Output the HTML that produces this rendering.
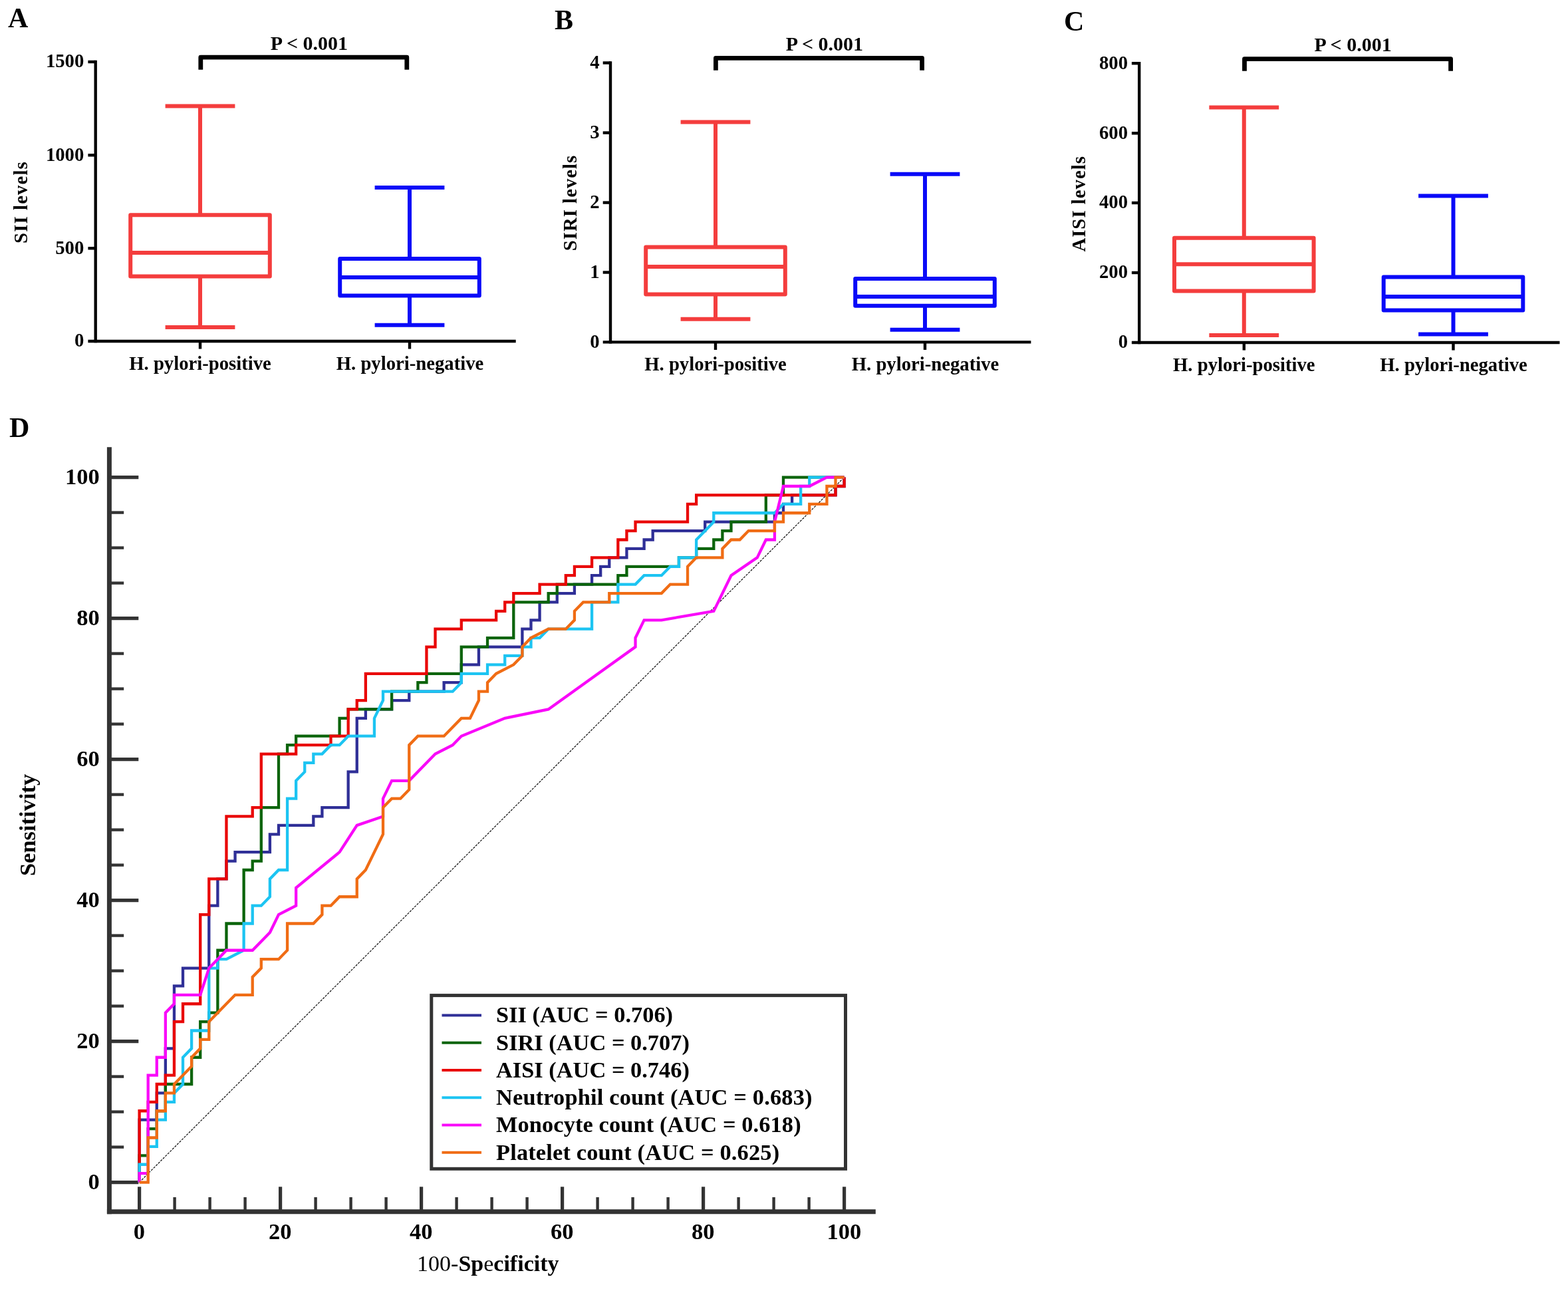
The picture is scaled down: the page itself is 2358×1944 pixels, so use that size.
<!DOCTYPE html>
<html lang="en"><head><meta charset="utf-8"><title>Figure</title>
<style>html,body{margin:0;padding:0;background:#fff}svg{display:block}</style></head>
<body>
<svg width="2358" height="1944" viewBox="0 0 2358 1944" font-family='"Liberation Serif", serif' fill="#000">
<rect width="2358" height="1944" fill="#fff"/>
<g stroke="#000" stroke-width="4.4" fill="none">
<line x1="143.7" y1="90.8" x2="143.7" y2="515.2"/>
<line x1="132.39999999999998" y1="513" x2="775.7" y2="513"/>
<line x1="132.39999999999998" y1="373.3" x2="143.7" y2="373.3"/>
<line x1="132.39999999999998" y1="233.3" x2="143.7" y2="233.3"/>
<line x1="132.39999999999998" y1="93" x2="143.7" y2="93"/>
<line x1="301" y1="513" x2="301" y2="524.6"/>
<line x1="616" y1="513" x2="616" y2="524.6"/>
</g>
<text x="126.3" y="521.4" font-size="28.7" font-weight="bold" text-anchor="end">0</text>
<text x="126.3" y="381.7" font-size="28.7" font-weight="bold" text-anchor="end">500</text>
<text x="126.3" y="241.7" font-size="28.7" font-weight="bold" text-anchor="end">1000</text>
<text x="126.3" y="101.4" font-size="28.7" font-weight="bold" text-anchor="end">1500</text>
<text x="41" y="304.6" font-size="28.7" font-weight="bold" text-anchor="middle" transform="rotate(-90 41 304.6)" textLength="122.6" lengthAdjust="spacing">SII levels</text>
<text x="301" y="555.6" font-size="28.7" font-weight="bold" text-anchor="middle">H. pylori-positive</text>
<text x="616.5" y="555.6" font-size="28.7" font-weight="bold" text-anchor="middle">H. pylori-negative</text>
<text x="12" y="40.8" font-size="42" font-weight="bold" text-anchor="start">A</text>
<path d="M301.8 104.8V86.2H611.8V104.8" fill="none" stroke="#000" stroke-width="6.8" stroke-linejoin="round"/>
<text x="465" y="75" font-size="30" font-weight="bold" text-anchor="middle">P &lt; 0.001</text>
<g stroke="#f43d3d" stroke-width="6" fill="none" stroke-linejoin="round">
<line x1="301" y1="159.4" x2="301" y2="323.3"/>
<line x1="301" y1="415.6" x2="301" y2="492"/>
<line x1="248.6" y1="159.4" x2="353.4" y2="159.4"/>
<line x1="248.6" y1="492" x2="353.4" y2="492"/>
<rect x="196.2" y="323.3" width="209.6" height="92.3"/>
<line x1="196.2" y1="379.9" x2="405.8" y2="379.9"/>
</g>
<g stroke="#0a0af8" stroke-width="6" fill="none" stroke-linejoin="round">
<line x1="616" y1="281.9" x2="616" y2="389"/>
<line x1="616" y1="444.6" x2="616" y2="488.7"/>
<line x1="563.6" y1="281.9" x2="668.4" y2="281.9"/>
<line x1="563.6" y1="488.7" x2="668.4" y2="488.7"/>
<rect x="511.2" y="389" width="209.6" height="55.6"/>
<line x1="511.2" y1="417.1" x2="720.8" y2="417.1"/>
</g>
<g stroke="#000" stroke-width="4.4" fill="none">
<line x1="918" y1="92.3" x2="918" y2="516.6"/>
<line x1="906.7" y1="514.4" x2="1550.4" y2="514.4"/>
<line x1="906.7" y1="409.5" x2="918" y2="409.5"/>
<line x1="906.7" y1="304.6" x2="918" y2="304.6"/>
<line x1="906.7" y1="199.6" x2="918" y2="199.6"/>
<line x1="906.7" y1="94.5" x2="918" y2="94.5"/>
<line x1="1076" y1="514.4" x2="1076" y2="526.0"/>
<line x1="1391" y1="514.4" x2="1391" y2="526.0"/>
</g>
<text x="901.5" y="522.8" font-size="28.7" font-weight="bold" text-anchor="end">0</text>
<text x="901.5" y="417.9" font-size="28.7" font-weight="bold" text-anchor="end">1</text>
<text x="901.5" y="313.0" font-size="28.7" font-weight="bold" text-anchor="end">2</text>
<text x="901.5" y="208.0" font-size="28.7" font-weight="bold" text-anchor="end">3</text>
<text x="901.5" y="102.9" font-size="28.7" font-weight="bold" text-anchor="end">4</text>
<text x="866.5" y="305.5" font-size="28.7" font-weight="bold" text-anchor="middle" transform="rotate(-90 866.5 305.5)" textLength="143.6" lengthAdjust="spacing">SIRI levels</text>
<text x="1076" y="556.6" font-size="28.7" font-weight="bold" text-anchor="middle">H. pylori-positive</text>
<text x="1391.5" y="556.6" font-size="28.7" font-weight="bold" text-anchor="middle">H. pylori-negative</text>
<text x="834" y="44.4" font-size="42" font-weight="bold" text-anchor="start">B</text>
<path d="M1076.4 105.8V87.4H1386.6V105.8" fill="none" stroke="#000" stroke-width="6.8" stroke-linejoin="round"/>
<text x="1240" y="75.6" font-size="30" font-weight="bold" text-anchor="middle">P &lt; 0.001</text>
<g stroke="#f43d3d" stroke-width="6" fill="none" stroke-linejoin="round">
<line x1="1076" y1="183.5" x2="1076" y2="371.5"/>
<line x1="1076" y1="442.6" x2="1076" y2="479.8"/>
<line x1="1023.6" y1="183.5" x2="1128.4" y2="183.5"/>
<line x1="1023.6" y1="479.8" x2="1128.4" y2="479.8"/>
<rect x="971.2" y="371.5" width="209.6" height="71.1"/>
<line x1="971.2" y1="401" x2="1180.8" y2="401"/>
</g>
<g stroke="#0a0af8" stroke-width="6" fill="none" stroke-linejoin="round">
<line x1="1391" y1="261.7" x2="1391" y2="418.9"/>
<line x1="1391" y1="459.8" x2="1391" y2="495.8"/>
<line x1="1338.6" y1="261.7" x2="1443.4" y2="261.7"/>
<line x1="1338.6" y1="495.8" x2="1443.4" y2="495.8"/>
<rect x="1286.2" y="418.9" width="209.6" height="40.9"/>
<line x1="1286.2" y1="446.1" x2="1495.8" y2="446.1"/>
</g>
<g stroke="#000" stroke-width="4.4" fill="none">
<line x1="1713.2" y1="93.0" x2="1713.2" y2="517.2"/>
<line x1="1701.9" y1="515" x2="2345.5" y2="515"/>
<line x1="1701.9" y1="410" x2="1713.2" y2="410"/>
<line x1="1701.9" y1="305" x2="1713.2" y2="305"/>
<line x1="1701.9" y1="200.3" x2="1713.2" y2="200.3"/>
<line x1="1701.9" y1="95.2" x2="1713.2" y2="95.2"/>
<line x1="1870.8" y1="515" x2="1870.8" y2="526.6"/>
<line x1="2185.5" y1="515" x2="2185.5" y2="526.6"/>
</g>
<text x="1696" y="523.4" font-size="28.7" font-weight="bold" text-anchor="end">0</text>
<text x="1696" y="418.4" font-size="28.7" font-weight="bold" text-anchor="end">200</text>
<text x="1696" y="313.4" font-size="28.7" font-weight="bold" text-anchor="end">400</text>
<text x="1696" y="208.7" font-size="28.7" font-weight="bold" text-anchor="end">600</text>
<text x="1696" y="103.6" font-size="28.7" font-weight="bold" text-anchor="end">800</text>
<text x="1632" y="306.8" font-size="28.7" font-weight="bold" text-anchor="middle" transform="rotate(-90 1632 306.8)" textLength="143.6" lengthAdjust="spacing">AISI levels</text>
<text x="1870.8" y="557.6" font-size="28.7" font-weight="bold" text-anchor="middle">H. pylori-positive</text>
<text x="2186.0" y="557.6" font-size="28.7" font-weight="bold" text-anchor="middle">H. pylori-negative</text>
<text x="1600" y="45.6" font-size="42" font-weight="bold" text-anchor="start">C</text>
<path d="M1871.5 106.7V88.7H2181.6V106.7" fill="none" stroke="#000" stroke-width="6.8" stroke-linejoin="round"/>
<text x="2034.6" y="76.6" font-size="30" font-weight="bold" text-anchor="middle">P &lt; 0.001</text>
<g stroke="#f43d3d" stroke-width="6" fill="none" stroke-linejoin="round">
<line x1="1870.8" y1="161.6" x2="1870.8" y2="357.7"/>
<line x1="1870.8" y1="437.5" x2="1870.8" y2="503.9"/>
<line x1="1818.3999999999999" y1="161.6" x2="1923.2" y2="161.6"/>
<line x1="1818.3999999999999" y1="503.9" x2="1923.2" y2="503.9"/>
<rect x="1766.0" y="357.7" width="209.6" height="79.8"/>
<line x1="1766.0" y1="397.2" x2="1975.6" y2="397.2"/>
</g>
<g stroke="#0a0af8" stroke-width="6" fill="none" stroke-linejoin="round">
<line x1="2185.5" y1="294.6" x2="2185.5" y2="416.6"/>
<line x1="2185.5" y1="466.5" x2="2185.5" y2="502.4"/>
<line x1="2133.1" y1="294.6" x2="2237.9" y2="294.6"/>
<line x1="2133.1" y1="502.4" x2="2237.9" y2="502.4"/>
<rect x="2080.7" y="416.6" width="209.6" height="49.9"/>
<line x1="2080.7" y1="446" x2="2290.3" y2="446"/>
</g>
<text x="14" y="656.8" font-size="42" font-weight="bold" text-anchor="start">D</text>
<g stroke="#333" fill="none">
<path d="M164.4 672.2V1825.3" stroke-width="7"/>
<path d="M160.9 1821.8H1316.8" stroke-width="7"/>
<path d="M164.4 1777.6H208.3" stroke-width="5.4"/>
<path d="M164.4 1724.6H186.2" stroke-width="4.4"/>
<path d="M164.4 1671.6H186.2" stroke-width="4.4"/>
<path d="M164.4 1618.6H186.2" stroke-width="4.4"/>
<path d="M164.4 1565.6H208.3" stroke-width="5.4"/>
<path d="M164.4 1512.6H186.2" stroke-width="4.4"/>
<path d="M164.4 1459.6H186.2" stroke-width="4.4"/>
<path d="M164.4 1406.6H186.2" stroke-width="4.4"/>
<path d="M164.4 1353.6H208.3" stroke-width="5.4"/>
<path d="M164.4 1300.6H186.2" stroke-width="4.4"/>
<path d="M164.4 1247.6H186.2" stroke-width="4.4"/>
<path d="M164.4 1194.6H186.2" stroke-width="4.4"/>
<path d="M164.4 1141.6H208.3" stroke-width="5.4"/>
<path d="M164.4 1088.6H186.2" stroke-width="4.4"/>
<path d="M164.4 1035.6H186.2" stroke-width="4.4"/>
<path d="M164.4 982.6H186.2" stroke-width="4.4"/>
<path d="M164.4 929.6H208.3" stroke-width="5.4"/>
<path d="M164.4 876.6H186.2" stroke-width="4.4"/>
<path d="M164.4 823.6H186.2" stroke-width="4.4"/>
<path d="M164.4 770.6H186.2" stroke-width="4.4"/>
<path d="M164.4 717.6H208.3" stroke-width="5.4"/>
<path d="M209.6 1821.8V1784.3" stroke-width="5.2"/>
<path d="M262.6 1821.8V1800" stroke-width="4.4"/>
<path d="M315.6 1821.8V1800" stroke-width="4.4"/>
<path d="M368.6 1821.8V1800" stroke-width="4.4"/>
<path d="M421.6 1821.8V1784.3" stroke-width="5.2"/>
<path d="M474.6 1821.8V1800" stroke-width="4.4"/>
<path d="M527.6 1821.8V1800" stroke-width="4.4"/>
<path d="M580.6 1821.8V1800" stroke-width="4.4"/>
<path d="M633.6 1821.8V1784.3" stroke-width="5.2"/>
<path d="M686.6 1821.8V1800" stroke-width="4.4"/>
<path d="M739.6 1821.8V1800" stroke-width="4.4"/>
<path d="M792.6 1821.8V1800" stroke-width="4.4"/>
<path d="M845.6 1821.8V1784.3" stroke-width="5.2"/>
<path d="M898.6 1821.8V1800" stroke-width="4.4"/>
<path d="M951.6 1821.8V1800" stroke-width="4.4"/>
<path d="M1004.6 1821.8V1800" stroke-width="4.4"/>
<path d="M1057.6 1821.8V1784.3" stroke-width="5.2"/>
<path d="M1110.6 1821.8V1800" stroke-width="4.4"/>
<path d="M1163.6 1821.8V1800" stroke-width="4.4"/>
<path d="M1216.6 1821.8V1800" stroke-width="4.4"/>
<path d="M1269.6 1821.8V1784.3" stroke-width="5.2"/>
</g>
<text x="149.8" y="1787.7" font-size="34.5" font-weight="bold" text-anchor="end">0</text>
<text x="209.3" y="1863.2" font-size="34.5" font-weight="bold" text-anchor="middle">0</text>
<text x="149.8" y="1575.7" font-size="34.5" font-weight="bold" text-anchor="end">20</text>
<text x="421.3" y="1863.2" font-size="34.5" font-weight="bold" text-anchor="middle">20</text>
<text x="149.8" y="1363.7" font-size="34.5" font-weight="bold" text-anchor="end">40</text>
<text x="633.3" y="1863.2" font-size="34.5" font-weight="bold" text-anchor="middle">40</text>
<text x="149.8" y="1151.7" font-size="34.5" font-weight="bold" text-anchor="end">60</text>
<text x="845.3" y="1863.2" font-size="34.5" font-weight="bold" text-anchor="middle">60</text>
<text x="149.8" y="939.7" font-size="34.5" font-weight="bold" text-anchor="end">80</text>
<text x="1057.3" y="1863.2" font-size="34.5" font-weight="bold" text-anchor="middle">80</text>
<text x="149.8" y="727.7" font-size="34.5" font-weight="bold" text-anchor="end">100</text>
<text x="1269.3" y="1863.2" font-size="34.5" font-weight="bold" text-anchor="middle">100</text>
<text x="53.5" y="1240.4" font-size="34.5" font-weight="bold" text-anchor="middle" transform="rotate(-90 53.5 1240.4)">Sensitivity</text>
<text x="733.8" y="1911" font-size="34" text-anchor="middle" font-weight="bold"><tspan font-weight="normal">100-</tspan>Sp<tspan font-weight="normal">e</tspan>cificity</text>
<line x1="209.6" y1="1777.6" x2="1269.6" y2="717.6" stroke="#000" stroke-width="1.15" stroke-dasharray="3.3 1.7"/>
<g fill="none" stroke-width="4.3" stroke-linejoin="miter">
<path d="M209.6 1777.6L209.6 1683.68L235.77 1683.68L235.77 1643.42L248.86 1643.42L248.86 1576.33L261.95 1576.33L261.95 1482.41L275.03 1482.41L275.03 1455.57L314.29 1455.57L314.29 1361.65L327.38 1361.65L327.38 1321.4L340.46 1321.4L340.46 1294.56L353.55 1294.56L353.55 1281.14L405.9 1281.14L405.9 1254.31L418.98 1254.31L418.98 1240.89L471.33 1240.89L471.33 1227.47L484.41 1227.47L484.41 1214.06L523.67 1214.06L523.67 1160.38L536.76 1160.38L536.76 1079.88L549.85 1079.88L549.85 1066.46L589.11 1066.46L589.11 1053.04L615.28 1053.04L615.28 1039.63L667.62 1039.63L667.62 1026.21L693.8 1026.21L693.8 999.37L719.97 999.37L719.97 972.54L785.4 972.54L785.4 945.7L798.49 945.7L798.49 932.28L811.58 932.28L811.58 905.45L837.75 905.45L837.75 892.03L863.92 892.03L863.92 878.61L890.09 878.61L890.09 865.19L903.18 865.19L903.18 851.78L916.27 851.78L916.27 838.36L942.44 838.36L942.44 824.94L968.61 824.94L968.61 811.52L981.7 811.52L981.7 798.11L1060.22 798.11L1060.22 784.69L1164.91 784.69L1164.91 771.27L1178.0 771.27L1178.0 757.85L1191.08 757.85L1191.08 744.44L1256.51 744.44L1256.51 731.02L1269.6 731.02L1269.6 717.6" stroke="#2f2f97"/>
<path d="M209.6 1777.6L209.6 1737.35L222.69 1737.35L222.69 1697.09L235.77 1697.09L235.77 1670.26L248.86 1670.26L248.86 1630.01L288.12 1630.01L288.12 1589.75L301.2 1589.75L301.2 1536.08L314.29 1536.08L314.29 1522.66L327.38 1522.66L327.38 1428.74L340.46 1428.74L340.46 1388.49L366.64 1388.49L366.64 1307.98L379.72 1307.98L379.72 1294.56L392.81 1294.56L392.81 1214.06L418.98 1214.06L418.98 1133.55L432.07 1133.55L432.07 1120.13L445.16 1120.13L445.16 1106.71L510.59 1106.71L510.59 1079.88L523.67 1079.88L523.67 1066.46L589.11 1066.46L589.11 1039.63L628.37 1039.63L628.37 1026.21L641.45 1026.21L641.45 1012.79L693.8 1012.79L693.8 972.54L733.06 972.54L733.06 959.12L772.32 959.12L772.32 905.45L824.66 905.45L824.66 892.03L837.75 892.03L837.75 878.61L929.35 878.61L929.35 865.19L942.44 865.19L942.44 851.78L1020.96 851.78L1020.96 838.36L1047.13 838.36L1047.13 824.94L1073.3 824.94L1073.3 811.52L1086.39 811.52L1086.39 798.11L1099.48 798.11L1099.48 784.69L1151.82 784.69L1151.82 744.44L1178.0 744.44L1178.0 717.6L1269.6 717.6" stroke="#0b640b"/>
<path d="M209.6 1777.6L209.6 1670.26L222.69 1670.26L222.69 1656.84L235.77 1656.84L235.77 1630.01L248.86 1630.01L248.86 1616.59L261.95 1616.59L261.95 1536.08L275.03 1536.08L275.03 1509.25L301.2 1509.25L301.2 1375.07L314.29 1375.07L314.29 1321.4L340.46 1321.4L340.46 1227.47L379.72 1227.47L379.72 1214.06L392.81 1214.06L392.81 1133.55L445.16 1133.55L445.16 1120.13L497.5 1120.13L497.5 1106.71L523.67 1106.71L523.67 1066.46L536.76 1066.46L536.76 1053.04L549.85 1053.04L549.85 1012.79L641.45 1012.79L641.45 972.54L654.54 972.54L654.54 945.7L693.8 945.7L693.8 932.28L746.14 932.28L746.14 918.87L759.23 918.87L759.23 905.45L772.32 905.45L772.32 892.03L811.58 892.03L811.58 878.61L850.83 878.61L850.83 865.19L863.92 865.19L863.92 851.78L890.09 851.78L890.09 838.36L929.35 838.36L929.35 811.52L942.44 811.52L942.44 798.11L955.53 798.11L955.53 784.69L1034.04 784.69L1034.04 757.85L1047.13 757.85L1047.13 744.44L1256.51 744.44L1256.51 731.02L1269.6 731.02L1269.6 717.6" stroke="#e90505"/>
<path d="M209.6 1777.6L209.6 1750.76L222.69 1750.76L222.69 1723.93L235.77 1723.93L235.77 1683.68L248.86 1683.68L248.86 1656.84L261.95 1656.84L261.95 1643.42L275.03 1630.01L275.03 1589.75L288.12 1576.33L288.12 1549.5L314.29 1549.5L314.29 1455.57L327.38 1455.57L327.38 1442.16L340.46 1442.16L366.64 1428.74L366.64 1388.49L379.72 1388.49L379.72 1361.65L392.81 1361.65L405.9 1348.23L405.9 1321.4L418.98 1307.98L432.07 1307.98L432.07 1200.64L445.16 1200.64L445.16 1173.8L458.24 1160.38L458.24 1146.97L471.33 1146.97L471.33 1133.55L484.41 1133.55L497.5 1120.13L510.59 1120.13L523.67 1106.71L562.93 1106.71L562.93 1079.88L576.02 1053.04L576.02 1039.63L680.71 1039.63L693.8 1026.21L693.8 1012.79L733.06 1012.79L733.06 999.37L759.23 999.37L759.23 985.95L785.4 985.95L785.4 972.54L798.49 972.54L798.49 959.12L811.58 959.12L824.66 945.7L890.09 945.7L890.09 905.45L929.35 905.45L929.35 878.61L955.53 878.61L968.61 865.19L994.79 865.19L1007.87 851.78L1020.96 851.78L1020.96 838.36L1047.13 838.36L1047.13 811.52L1073.3 784.69L1073.3 771.27L1164.91 771.27L1178.0 757.85L1204.17 757.85L1204.17 731.02L1217.25 731.02L1217.25 717.6L1269.6 717.6" stroke="#1cc4f2"/>
<path d="M209.6 1777.6L209.6 1764.18L222.69 1764.18L222.69 1616.59L235.77 1616.59L235.77 1589.75L248.86 1589.75L248.86 1522.66L261.95 1509.25L261.95 1495.83L301.2 1495.83L314.29 1455.57L327.38 1442.16L340.46 1428.74L379.72 1428.74L405.9 1401.9L418.98 1375.07L445.16 1361.65L445.16 1334.82L510.59 1281.14L536.76 1240.89L576.02 1227.47L576.02 1200.64L589.11 1173.8L615.28 1173.8L654.54 1133.55L680.71 1120.13L693.8 1106.71L759.23 1079.88L824.66 1066.46L955.53 972.54L955.53 959.12L968.61 932.28L994.79 932.28L1073.3 918.87L1099.48 865.19L1138.74 838.36L1151.82 811.52L1164.91 811.52L1164.91 784.69L1178.0 731.02L1217.25 731.02L1243.43 717.6L1269.6 717.6" stroke="#f908f9"/>
<path d="M209.6 1777.6L222.69 1777.6L222.69 1710.51L235.77 1710.51L235.77 1670.26L248.86 1670.26L248.86 1643.42L261.95 1643.42L261.95 1630.01L288.12 1603.17L288.12 1589.75L301.2 1576.33L301.2 1562.92L314.29 1562.92L314.29 1536.08L353.55 1495.83L379.72 1495.83L379.72 1468.99L392.81 1455.57L392.81 1442.16L418.98 1442.16L432.07 1428.74L432.07 1388.49L471.33 1388.49L484.41 1375.07L484.41 1361.65L497.5 1361.65L510.59 1348.23L536.76 1348.23L536.76 1321.4L549.85 1307.98L576.02 1254.31L576.02 1214.06L589.11 1200.64L602.19 1200.64L615.28 1187.22L615.28 1120.13L628.37 1106.71L667.62 1106.71L693.8 1079.88L706.88 1079.88L719.97 1053.04L719.97 1039.63L733.06 1039.63L733.06 1026.21L746.14 1012.79L772.32 999.37L785.4 985.95L785.4 972.54L798.49 959.12L824.66 945.7L850.83 945.7L863.92 932.28L863.92 918.87L877.01 905.45L916.27 905.45L916.27 892.03L994.79 892.03L1007.87 878.61L1034.04 878.61L1034.04 851.78L1047.13 838.36L1086.39 838.36L1086.39 824.94L1099.48 811.52L1112.56 811.52L1125.65 798.11L1164.91 798.11L1164.91 784.69L1178.0 784.69L1178.0 771.27L1217.25 771.27L1217.25 757.85L1243.43 757.85L1243.43 731.02L1256.51 731.02L1256.51 717.6L1269.6 717.6" stroke="#f06c14"/>
</g>
<rect x="648.8" y="1496.6" width="622.7" height="260.7" fill="#fff" stroke="#333" stroke-width="5"/>
<line x1="664.5" y1="1526.4" x2="724" y2="1526.4" stroke="#2f2f97" stroke-width="4"/>
<text x="746" y="1537.4" font-size="34.4" font-weight="bold" text-anchor="start">SII (AUC = 0.706)</text>
<line x1="664.5" y1="1567.7" x2="724" y2="1567.7" stroke="#0b640b" stroke-width="4"/>
<text x="746" y="1578.7" font-size="34.4" font-weight="bold" text-anchor="start">SIRI (AUC = 0.707)</text>
<line x1="664.5" y1="1608.9" x2="724" y2="1608.9" stroke="#e90505" stroke-width="4"/>
<text x="746" y="1619.9" font-size="34.4" font-weight="bold" text-anchor="start">AISI (AUC = 0.746)</text>
<line x1="664.5" y1="1650.2" x2="724" y2="1650.2" stroke="#1cc4f2" stroke-width="4"/>
<text x="746" y="1661.2" font-size="34.4" font-weight="bold" text-anchor="start" textLength="475.5" lengthAdjust="spacing">Neutrophil count (AUC = 0.683)</text>
<line x1="664.5" y1="1691.4" x2="724" y2="1691.4" stroke="#f908f9" stroke-width="4"/>
<text x="746" y="1702.4" font-size="34.4" font-weight="bold" text-anchor="start" textLength="458.6" lengthAdjust="spacing">Monocyte count (AUC = 0.618)</text>
<line x1="664.5" y1="1732.7" x2="724" y2="1732.7" stroke="#f06c14" stroke-width="4"/>
<text x="746" y="1743.7" font-size="34.4" font-weight="bold" text-anchor="start" textLength="426.1" lengthAdjust="spacing">Platelet count (AUC = 0.625)</text>
</svg>
</body></html>
